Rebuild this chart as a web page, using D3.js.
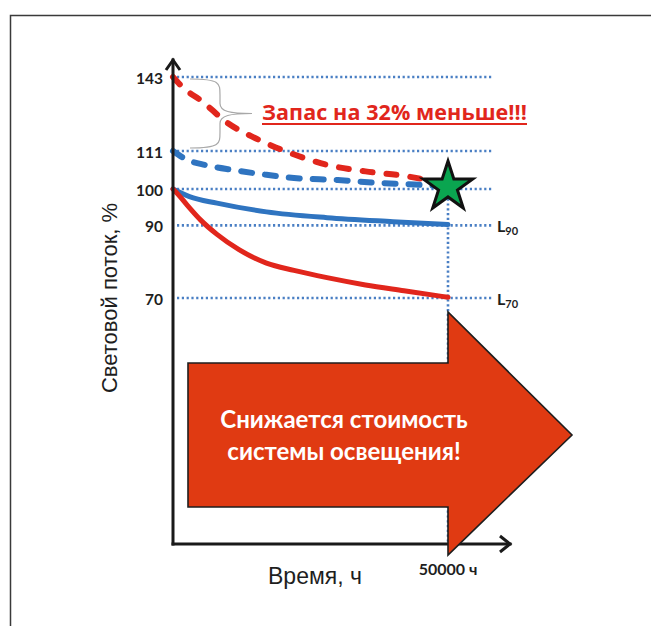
<!DOCTYPE html>
<html>
<head>
<meta charset="utf-8">
<script src="https://cdn.jsdelivr.net/npm/d3@7"></script>
<style>
  html, body { margin: 0; padding: 0; background: #fff; overflow: hidden; }
  svg { display: block; }
</style>
</head>
<body>
<svg id="chart" width="651" height="626"></svg>
<script>
// Flux levels marked on the vertical axis, %
const levelTicks = [70, 90, 100, 111, 143];
// Lifetime thresholds shown at the right edge
const lifetimeLevels = [90, 70];
const lifetimeSubs = ["90", "70"];
// Rated operating time, hours
const ratedHours = 50000;
const ratedLabel = "50000 ч";

// Solid curves: flux degradation from 100 %
const blueHours = [0, 3000, 8000, 17000, 28000, 40000, 50000];
const blueFlux  = [100, 97.9, 96.1, 93.7, 92.1, 91.0, 90.2];
const redHours  = [0, 1000, 2500, 5000, 8000, 12000, 17000, 22000, 28000, 35000, 42000, 50000];
const redFlux   = [100, 98.4, 95.7, 91.5, 87.5, 83.3, 79.6, 77.6, 75.6, 73.6, 72.0, 70.2];

// Dashed curves: initial reserve needed to stay at 100 % after 50000 h
const blueReserveHours = [0, 2500, 6000, 11000, 17000, 22000, 30000, 38000, 44000, 50000];
const blueReserveFlux  = [111, 108.5, 106.9, 105.5, 104.1, 103.2, 102.6, 101.7, 101.3, 100.7];
const redReserveHours  = [0, 2000, 5000, 10000, 15000, 21000, 28000, 35000, 42000, 47000];
const redReserveFlux   = [143, 138, 133, 123, 116.5, 110.6, 107.0, 105.1, 103.8, 102.4];

const titleText = "Запас на 32% меньше!!!";
const arrowLines = ["Снижается стоимость", "системы освещения!"];
const xTitle = "Время, ч";
const yTitle = "Световой поток, %";

const BLUE = "#2f74c0";
const RED = "#e1261c";
const DOT = "#4a7fc4";
const BOLD = "Lato, 'Open Sans', sans-serif";
const WIDE_BOLD = "'Open Sans', Lato, sans-serif";
const PLAIN = "'Liberation Sans', Arial, sans-serif";

const svg = d3.select("#chart");

// Page frame (left and top edges)
svg.append("path")
  .attr("d", "M10.5,626 L10.5,15.5 L651,15.5")
  .attr("fill", "none").attr("stroke", "#3a3a3a").attr("stroke-width", 1.5);

const x = d3.scaleLinear().domain([0, ratedHours]).range([173, 448]);
// The vertical axis is schematic: the upper part is compressed
const y = d3.scaleLinear().domain([70, 100, 111, 143]).range([298, 189, 151, 77]);

const axisY0 = 544;   // horizontal axis position
const axisTop = 59;
const axisRight = 511;
const gridRight = 493;

// Dotted reference levels
svg.append("g").selectAll("line")
  .data(levelTicks)
  .join("line")
  .attr("x1", x(0) + 4).attr("x2", gridRight)
  .attr("y1", d => y(d)).attr("y2", d => y(d))
  .attr("stroke", DOT).attr("stroke-width", 2.6)
  .attr("stroke-dasharray", "2.2,2.6");

// Dotted marker of the rated lifetime
svg.append("line")
  .attr("x1", x(ratedHours)).attr("x2", x(ratedHours))
  .attr("y1", y(100)).attr("y2", axisY0)
  .attr("stroke", DOT).attr("stroke-width", 2.6)
  .attr("stroke-dasharray", "2.2,2.6");

// Tick labels
svg.append("g").selectAll("text")
  .data(levelTicks)
  .join("text")
  .attr("x", 163).attr("y", d => y(d))
  .attr("dy", "0.45em")
  .attr("text-anchor", "end")
  .attr("font-family", BOLD).attr("font-weight", 700)
  .attr("font-size", 15.5).attr("fill", "#1e1e1e")
  .text(d => d);

// L90 / L70 labels
const lg = svg.append("g").selectAll("text")
  .data(lifetimeLevels)
  .join("text")
  .attr("x", 497).attr("y", d => y(d) + 7)
  .attr("font-family", BOLD).attr("font-weight", 700)
  .attr("font-size", 16).attr("fill", "#1e1e1e");
lg.append("tspan").text("L");
lg.append("tspan").attr("font-size", 11).attr("dy", 3).text((d, i) => lifetimeSubs[i]);

// Brace between the two initial reserve levels
const bx0 = 190, bx1 = 220, bxp = 252;
const by0 = y(143) + 2, by1 = y(111) - 3, bym = (by0 + by1) / 2;
svg.append("path")
  .attr("d", `M${bx0},${by0} C${bx1},${by0} ${bx1},${by0 + 4} ${bx1},${by0 + 16}
              L${bx1},${bym - 10} C${bx1},${bym - 2} ${bx1 + 10},${bym} ${bxp},${bym}
              C${bx1 + 10},${bym} ${bx1},${bym + 2} ${bx1},${bym + 10}
              L${bx1},${by1 - 16} C${bx1},${by1 - 4} ${bx1},${by1} ${bx0},${by1}`)
  .attr("fill", "none").attr("stroke", "#a8a8a8").attr("stroke-width", 1.2);

// Curves
const line = d3.line().x(d => x(d[0])).y(d => y(d[1])).curve(d3.curveMonotoneX);
const zip = (a, b) => a.map((v, i) => [v, b[i]]);

svg.append("path").datum(zip(redReserveHours, redReserveFlux))
  .attr("d", line).attr("fill", "none").attr("stroke", RED)
  .attr("stroke-width", 6).attr("stroke-linecap", "round")
  .attr("stroke-dasharray", "10,14");
svg.append("path").datum(zip(blueReserveHours, blueReserveFlux))
  .attr("d", line).attr("fill", "none").attr("stroke", BLUE)
  .attr("stroke-width", 6).attr("stroke-linecap", "round")
  .attr("stroke-dasharray", "11,13");
svg.append("path").datum(zip(blueHours, blueFlux))
  .attr("d", line).attr("fill", "none").attr("stroke", BLUE)
  .attr("stroke-width", 5).attr("stroke-linecap", "round");
svg.append("path").datum(zip(redHours, redFlux))
  .attr("d", line).attr("fill", "none").attr("stroke", RED)
  .attr("stroke-width", 5).attr("stroke-linecap", "round");

// Axes with open arrowheads
const axes = svg.append("g").attr("stroke", "#1a1a1a").attr("fill", "none")
  .attr("stroke-linecap", "square");
axes.append("path")
  .attr("d", `M${x(0)},${axisY0} L${x(0)},${axisTop + 1}`)
  .attr("stroke-width", 3);
axes.append("path")
  .attr("d", `M${x(0) - 7},${axisTop + 11} L${x(0)},${axisTop + 1} L${x(0) + 7},${axisTop + 11}`)
  .attr("stroke-width", 3).attr("stroke-linejoin", "miter").attr("stroke-linecap", "butt");
axes.append("path")
  .attr("d", `M${x(0)},${axisY0} L${axisRight - 1},${axisY0}`)
  .attr("stroke-width", 3);
axes.append("path")
  .attr("d", `M${axisRight - 11},${axisY0 - 8} L${axisRight - 1},${axisY0} L${axisRight - 11},${axisY0 + 8}`)
  .attr("stroke-width", 3).attr("stroke-linejoin", "miter").attr("stroke-linecap", "butt");

// Large arrow with caption
const neck = x(ratedHours);
const shaftLeft = 188, shaftTop = 363, shaftBottom = 507;
const headTop = 312, headBottom = 555, tipX = 572, tipY = 435;
svg.append("path")
  .attr("d", `M${shaftLeft},${shaftTop} L${neck},${shaftTop} L${neck},${headTop}
              L${tipX},${tipY} L${neck},${headBottom} L${neck},${shaftBottom}
              L${shaftLeft},${shaftBottom} Z`)
  .attr("fill", "#e03a12").attr("stroke", "#1e1e1e").attr("stroke-width", 1.6)
  .attr("stroke-linejoin", "miter");

svg.append("g").selectAll("text")
  .data(arrowLines)
  .join("text")
  .attr("x", 344).attr("y", (d, i) => 428 + i * 32)
  .attr("text-anchor", "middle")
  .attr("font-family", BOLD).attr("font-weight", 700)
  .attr("font-size", 24).attr("fill", "#fff")
  .text(d => d);

// Target point: 100 % at the rated lifetime
svg.append("path")
  .attr("transform", `translate(${x(ratedHours)},${y(100) - 2})`)
  .attr("d", d3.symbol(d3.symbolStar, 760)())
  .attr("fill", "#0aa550").attr("stroke", "#111").attr("stroke-width", 3)
  .attr("stroke-linejoin", "miter");

// Headline with underline
const titleWidth = 265;
svg.append("text")
  .attr("x", 262).attr("y", 120)
  .attr("font-family", WIDE_BOLD).attr("font-weight", 700)
  .attr("font-size", 21.5).attr("fill", RED)
  .attr("textLength", titleWidth).attr("lengthAdjust", "spacing")
  .text(titleText);
svg.append("line")
  .attr("x1", 262).attr("x2", 262 + titleWidth)
  .attr("y1", 124).attr("y2", 124)
  .attr("stroke", RED).attr("stroke-width", 2);

// Axis titles
svg.append("text")
  .attr("x", x(ratedHours)).attr("y", 575)
  .attr("text-anchor", "middle")
  .attr("font-family", BOLD).attr("font-weight", 700)
  .attr("font-size", 16).attr("fill", "#1e1e1e")
  .text(ratedLabel);

svg.append("text")
  .attr("x", 315).attr("y", 584)
  .attr("text-anchor", "middle")
  .attr("font-family", PLAIN).attr("font-size", 23).attr("fill", "#1e1e1e")
  .text(xTitle);

svg.append("text")
  .attr("transform", "translate(117,298) rotate(-90)")
  .attr("text-anchor", "middle")
  .attr("font-family", PLAIN).attr("font-size", 22).attr("fill", "#1e1e1e")
  .text(yTitle);
</script>
</body>
</html>
